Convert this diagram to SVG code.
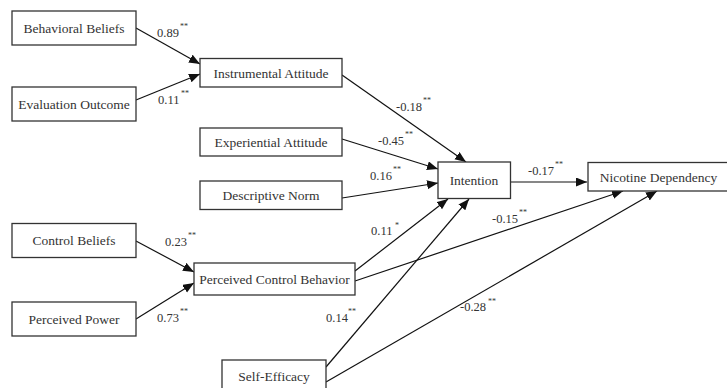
<svg xmlns="http://www.w3.org/2000/svg" width="727" height="388" viewBox="0 0 727 388">
<style>
.box{fill:#fff;stroke:#333;stroke-width:1.3}
.t{font-family:"Liberation Serif","Times New Roman",serif;font-size:13.5px;fill:#333;text-anchor:middle}
.l{font-family:"Liberation Serif","Times New Roman",serif;font-size:12.5px;fill:#333}
.s{font-family:"Liberation Serif","Times New Roman",serif;font-size:8px;fill:#333}
.c{stroke:#111;stroke-width:1.2;fill:none;marker-end:url(#ah)}
</style>
<defs>
<marker id="ah" markerUnits="userSpaceOnUse" markerWidth="12" markerHeight="10" refX="11" refY="4.5" orient="auto">
<path d="M0,0 L11,4.5 L0,9 z" fill="#111"/>
</marker>
</defs>
<rect width="727" height="388" fill="#fff"/>
<g id="connectors">
<line class="c" x1="136" y1="28" x2="200" y2="64"/>
<line class="c" x1="136" y1="100" x2="200" y2="74"/>
<line class="c" x1="342" y1="75" x2="466" y2="162"/>
<line class="c" x1="342" y1="139" x2="438" y2="169"/>
<line class="c" x1="342" y1="198" x2="438" y2="183"/>
<line class="c" x1="511" y1="182" x2="587" y2="182"/>
<line class="c" x1="355" y1="271" x2="448" y2="199"/>
<line class="c" x1="355" y1="281" x2="623" y2="191"/>
<line class="c" x1="326" y1="367" x2="469" y2="199"/>
<line class="c" x1="326" y1="382" x2="657" y2="191"/>
<line class="c" x1="136" y1="241" x2="194" y2="272"/>
<line class="c" x1="136" y1="319" x2="194" y2="283"/>
</g>
<g id="labels">
<text class="l" x="157" y="37">0.89</text><text class="s" x="180" y="29">**</text>
<text class="l" x="158" y="104">0.11</text><text class="s" x="181" y="96">**</text>
<text class="l" x="396" y="111">-0.18</text><text class="s" x="423" y="103">**</text>
<text class="l" x="378" y="145">-0.45</text><text class="s" x="405" y="137">**</text>
<text class="l" x="370" y="180">0.16</text><text class="s" x="393" y="172">**</text>
<text class="l" x="528" y="175">-0.17</text><text class="s" x="555" y="167">**</text>
<text class="l" x="492" y="223">-0.15</text><text class="s" x="519" y="215">**</text>
<text class="l" x="165" y="246">0.23</text><text class="s" x="188" y="238">**</text>
<text class="l" x="371" y="235">0.11</text><text class="s" x="395" y="228">*</text>
<text class="l" x="157" y="322">0.73</text><text class="s" x="180" y="314">**</text>
<text class="l" x="326" y="322">0.14</text><text class="s" x="348" y="314">**</text>
<text class="l" x="460" y="311">-0.28</text><text class="s" x="488" y="304">**</text>
</g>
<g id="behavioral-beliefs"><rect class="box" x="12" y="11" width="124" height="34"/><text class="t" x="74" y="32.5">Behavioral Beliefs</text></g>
<g id="evaluation-outcome"><rect class="box" x="12" y="87" width="124" height="34"/><text class="t" x="74" y="108.5">Evaluation Outcome</text></g>
<g id="instrumental-attitude"><rect class="box" x="200" y="58.5" width="142" height="28.5"/><text class="t" x="271" y="77.5">Instrumental Attitude</text></g>
<g id="experiential-attitude"><rect class="box" x="200" y="128" width="142" height="28"/><text class="t" x="271" y="146.5">Experiential Attitude</text></g>
<g id="descriptive-norm"><rect class="box" x="200" y="181" width="142" height="28.5"/><text class="t" x="271" y="200">Descriptive Norm</text></g>
<g id="intention"><rect class="box" x="438" y="162" width="72.5" height="36.5"/><text class="t" x="474" y="185">Intention</text></g>
<g id="nicotine-dependency"><rect class="box" x="588" y="162.5" width="142" height="28.5"/><text class="t" x="658.5" y="181.5">Nicotine Dependency</text></g>
<g id="control-beliefs"><rect class="box" x="12" y="223.5" width="124" height="34"/><text class="t" x="74" y="245">Control Beliefs</text></g>
<g id="perceived-control-behavior"><rect class="box" x="194" y="263" width="161" height="32"/><text class="t" x="274.5" y="283.5">Perceived Control Behavior</text></g>
<g id="perceived-power"><rect class="box" x="12" y="302" width="124" height="34"/><text class="t" x="74" y="323.5">Perceived Power</text></g>
<g id="self-efficacy"><rect class="box" x="222" y="360" width="104" height="34"/><text class="t" x="274" y="380.5">Self-Efficacy</text></g>
</svg>
